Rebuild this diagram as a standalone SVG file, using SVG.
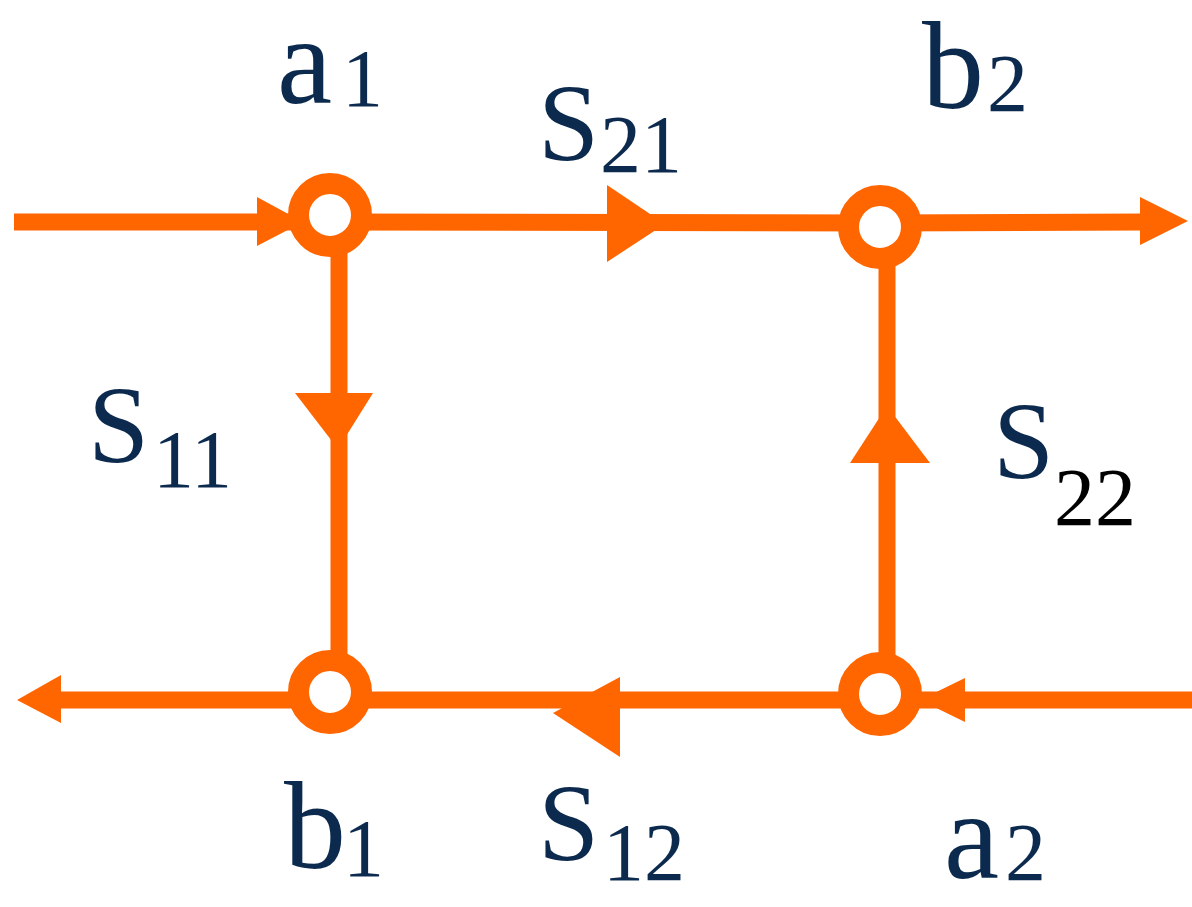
<svg xmlns="http://www.w3.org/2000/svg" width="1192" height="907" viewBox="0 0 1192 907">
<style>
.ln{stroke:#FF6600;stroke-width:17;fill:none}
.ah{fill:#FF6600}
.nd{fill:#fff;stroke:#FF6600;stroke-width:21}
.lb{fill:#0B2A4E;font-family:"Times New Roman","Liberation Serif","DejaVu Serif",serif}
.big{font-size:110px}
.let{font-size:124px}
.sub{font-size:82px}
</style>
<rect width="1192" height="907" fill="#fff"/>
<g id="connectors">
<line class="ln" x1="14" y1="222" x2="300" y2="222"/>
<polygon class="ah" points="257,197 257,246 303,222"/>
<line class="ln" x1="330" y1="222" x2="880" y2="223"/>
<polygon class="ah" points="607,185 607,262 665,224"/>
<line class="ln" x1="880" y1="223" x2="1145" y2="222"/>
<polygon class="ah" points="1140,197 1140,245 1188,221"/>
<line class="ln" x1="339" y1="216" x2="339" y2="692"/>
<polygon class="ah" points="295,393 373,393 338,449"/>
<line class="ln" x1="887" y1="227" x2="887" y2="694"/>
<polygon class="ah" points="850,463 930,463 887,406"/>
<line class="ln" x1="55" y1="700" x2="330" y2="700"/>
<polygon class="ah" points="61,675 61,723 17,700"/>
<line class="ln" x1="330" y1="700" x2="880" y2="700"/>
<polygon class="ah" points="620,677 620,757 553,713"/>
<line class="ln" x1="900" y1="700" x2="1192" y2="700"/>
<polygon class="ah" points="965,678 965,722 920,700"/>
</g>
<g id="node-a1"><circle class="nd" cx="330" cy="215" r="31.5"/>
<text class="lb"><tspan class="let" x="277" y="103">a</tspan><tspan class="sub" x="342" y="106">1</tspan></text></g>
<g id="node-b2"><circle class="nd" cx="880" cy="227" r="31.5"/>
<text class="lb"><tspan class="let" x="922" y="108">b</tspan><tspan class="sub" x="987" y="111">2</tspan></text></g>
<g id="node-b1"><circle class="nd" cx="330" cy="692" r="31.5"/>
<text class="lb"><tspan class="let" x="284" y="868">b</tspan><tspan class="sub" x="343" y="876">1</tspan></text></g>
<g id="node-a2"><circle class="nd" cx="880" cy="694" r="31.5"/>
<text class="lb"><tspan class="let" x="944" y="878">a</tspan><tspan class="sub" x="1005" y="880">2</tspan></text></g>
<g id="labels">
<text class="lb"><tspan class="big" x="538" y="160">S</tspan><tspan class="sub" x="600" y="172">21</tspan></text>
<text class="lb"><tspan class="big" x="88" y="462">S</tspan><tspan class="sub" x="153" y="487">11</tspan></text>
<text class="lb"><tspan class="big" x="993" y="478">S</tspan><tspan class="sub" x="1054" y="525" fill="#000">22</tspan></text>
<text class="lb"><tspan class="big" x="538" y="860">S</tspan><tspan class="sub" x="603" y="880">12</tspan></text>
</g>
</svg>
